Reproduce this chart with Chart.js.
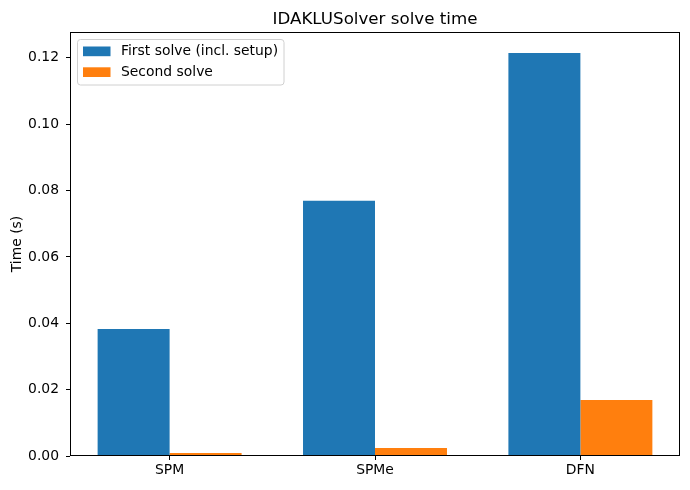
<!DOCTYPE html>
<html lang="en">
  <head>
    <meta charset="utf-8" />
    <title>IDAKLUSolver solve time</title>
    <style>
      html, body { margin: 0; padding: 0; background: #fff; }
      #wrap { width: 690px; height: 490px; }
    </style>
  </head>
  <body>
    <div id="wrap">
      <canvas id="myChart" width="690" height="490"></canvas>
    </div>
    <script src="https://cdn.jsdelivr.net/npm/chart.js"></script>
    <script>
      // values
      const categories = ['SPM', 'SPMe', 'DFN'];
      const firstSolve = [0.0383, 0.0769, 0.1215];
      const secondSolve = [0.0009, 0.0024, 0.0169];
      const seriesLabels = ['First solve (incl. setup)', 'Second solve'];
      const yTicks = [0, 0.02, 0.04, 0.06, 0.08, 0.1, 0.12];

      const FONT = "'DejaVu Sans', sans-serif";

      function toPoints(vals) {
        return vals.map((v, i) => ({ x: i, y: v }));
      }

      // axes box, title and legend drawn like matplotlib
      const mplStuff = {
        id: 'mplStuff',
        afterDatasetsDraw(chart) {
          const ctx = chart.ctx;
          const a = chart.chartArea;
          ctx.save();
          ctx.strokeStyle = '#000';
          ctx.lineWidth = 1;
          ctx.strokeRect(Math.round(a.left) + 0.5, Math.round(a.top) + 0.5,
            Math.round(a.right - a.left) - 1, Math.round(a.bottom - a.top) - 1);

          // title
          ctx.fillStyle = '#000';
          ctx.font = '16.7px ' + FONT;
          ctx.textAlign = 'center';
          ctx.textBaseline = 'alphabetic';
          ctx.fillText('IDAKLUSolver solve time', (a.left + a.right) / 2, 24);

          // legend
          const bx = 77.5, by = 39.5, bw = 206.5, bh = 45.5, r = 3;
          ctx.beginPath();
          ctx.moveTo(bx + r, by);
          ctx.lineTo(bx + bw - r, by);
          ctx.quadraticCurveTo(bx + bw, by, bx + bw, by + r);
          ctx.lineTo(bx + bw, by + bh - r);
          ctx.quadraticCurveTo(bx + bw, by + bh, bx + bw - r, by + bh);
          ctx.lineTo(bx + r, by + bh);
          ctx.quadraticCurveTo(bx, by + bh, bx, by + bh - r);
          ctx.lineTo(bx, by + r);
          ctx.quadraticCurveTo(bx, by, bx + r, by);
          ctx.closePath();
          ctx.fillStyle = 'rgba(255,255,255,0.8)';
          ctx.fill();
          ctx.strokeStyle = '#d0d0d0';
          ctx.stroke();

          ctx.font = '13.9px ' + FONT;
          ctx.textAlign = 'left';
          ctx.textBaseline = 'middle';
          chart.data.datasets.forEach((ds, i) => {
            const y = 46.5 + i * 20.8;
            ctx.fillStyle = ds.backgroundColor;
            ctx.fillRect(83, y, 27.5, 9.7);
            ctx.fillStyle = '#000';
            ctx.fillText(ds.label, 121, y + 5);
          });
          ctx.restore();
        },
      };

      const config = {
        type: 'bar',
        data: {
          datasets: [
            {
              label: seriesLabels[0],
              backgroundColor: '#1f77b4',
              data: toPoints(firstSolve),
            },
            {
              label: seriesLabels[1],
              backgroundColor: '#ff7f0e',
              data: toPoints(secondSolve),
            },
          ],
        },
        options: {
          responsive: false,
          animation: false,
          devicePixelRatio: 1,
          layout: { padding: { left: 0, right: 10, top: 32, bottom: 0 } },
          datasets: {
            bar: { categoryPercentage: 0.701, barPercentage: 1.0 },
          },
          plugins: {
            legend: { display: false },
            title: { display: false },
            tooltip: { enabled: false },
          },
          scales: {
            x: {
              type: 'linear',
              min: -0.485,
              max: 2.485,
              offset: false,
              afterFit: (s) => { s.height = 34; },
              afterBuildTicks: (s) => {
                s.ticks = categories.map((c, i) => ({ value: i }));
              },
              ticks: {
                color: '#000',
                font: { family: FONT, size: 13.9 },
                padding: 2,
                maxRotation: 0,
                autoSkip: false,
                callback: (v) => categories[v],
              },
              grid: {
                offset: false,
                drawOnChartArea: false,
                drawTicks: true,
                tickLength: 4,
                color: '#000',
              },
              border: { display: false },
            },
            y: {
              min: 0,
              max: 0.1278,
              afterFit: (s) => { s.width = 70; },
              afterBuildTicks: (s) => {
                s.ticks = yTicks.map((v) => ({ value: v }));
              },
              ticks: {
                color: '#000',
                font: { family: FONT, size: 13.9 },
                padding: 7,
                includeBounds: false,
                callback: (v) => Number(v).toFixed(2),
              },
              grid: {
                drawOnChartArea: false,
                drawTicks: true,
                tickLength: 4,
                color: '#000',
              },
              border: { display: false },
              title: {
                display: true,
                text: 'Time (s)',
                color: '#000',
                font: { family: FONT, size: 13.9 },
                padding: { top: 9, bottom: 0 },
              },
            },
          },
        },
        plugins: [mplStuff],
      };

      var myChart = new Chart(document.getElementById('myChart'), config);
    </script>
  </body>
</html>
